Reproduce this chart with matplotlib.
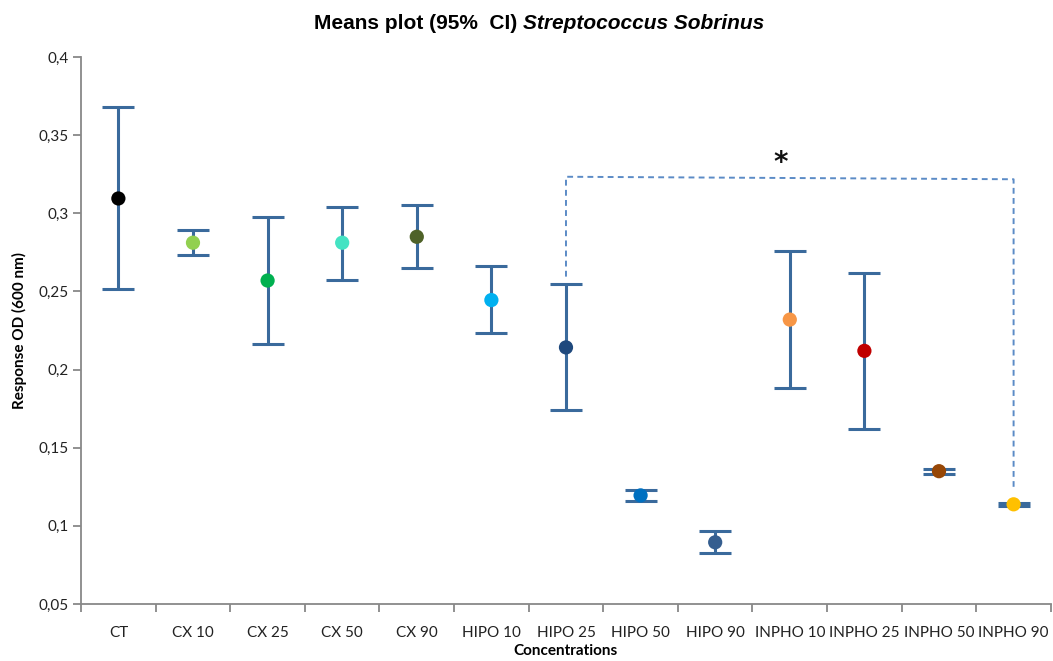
import matplotlib.pyplot as plt
import numpy as np

groups = ['CT', 'CX 10', 'CX 25', 'CX 50', 'CX 90', 'HIPO 10', 'HIPO 25',
          'HIPO 50', 'HIPO 90', 'INPHO 10', 'INPHO 25', 'INPHO 50', 'INPHO 90']
means = [0.3095, 0.2812, 0.2570, 0.2812, 0.2850, 0.2445, 0.2142,
         0.1195, 0.0895, 0.2320, 0.2120, 0.1350, 0.1138]
ci_upper = [0.3678, 0.2891, 0.2976, 0.3043, 0.3053, 0.2660, 0.2548,
            0.1228, 0.0965, 0.2757, 0.2620, 0.1365, 0.1145]
ci_lower = [0.2516, 0.2733, 0.2164, 0.2576, 0.2648, 0.2234, 0.1741,
            0.1162, 0.0827, 0.1882, 0.1622, 0.1333, 0.1130]
dot_colors = ['#000000', '#92D050', '#00B050', '#44E3C3', '#4F6228', '#00B0F0',
              '#1F497D', '#0070C0', '#355E8F', '#F79646', '#C00000', '#974706',
              '#FFC000']

# comparison bracket HIPO 25 vs INPHO 90
bracket_pair = (6, 12)
bracket_top = (0.3234, 0.3218)
bracket_bottom = (0.2595, 0.1250)

bar_col = '#3A6A9C'
grey = '#888888'

fig = plt.figure(figsize=(10.53, 6.61), dpi=100)
ax = fig.add_axes([0.077, 0.0862, 0.921, 0.8275])

x = np.arange(len(groups))
m = np.array(means)
err = np.vstack([m - np.array(ci_lower), np.array(ci_upper) - m])
ax.errorbar(x, m, yerr=err, fmt='none', ecolor=bar_col, elinewidth=2.2,
            capsize=11.5, capthick=2.2, zorder=2)
ax.scatter(x, m, s=105, c=dot_colors, zorder=3, edgecolors='none')

# dashed bracket with significance star
i0, i1 = bracket_pair
ax.plot([i0, i0, i1, i1],
        [bracket_bottom[0], bracket_top[0], bracket_top[1], bracket_bottom[1]],
        ls=(0, (3, 2.2)), color='#5B8BC6', lw=1.4, zorder=1)
ax.text(8.88, 0.3235, '*', ha='center', va='bottom', fontsize=20,
        fontweight='bold', color='#111111')

ax.set_xlim(-0.5, len(groups) - 0.5)
ax.set_ylim(0.05, 0.4)
yt = np.arange(0.05, 0.4001, 0.05)
ax.set_yticks(yt)
ax.set_yticklabels([('%g' % round(v, 2)).replace('.', ',') for v in yt])
ax.set_xticks(x)
ax.set_xticklabels(groups)
ax.set_xticks(np.arange(-0.5, len(groups), 1.0), minor=True)
ax.tick_params(axis='x', which='major', length=0, pad=16)
ax.tick_params(axis='x', which='minor', length=6, width=1.3, color=grey)
ax.tick_params(axis='y', length=6, width=1.3, color=grey, pad=3)
for lab in ax.get_xticklabels() + ax.get_yticklabels():
    lab.set_family(['Lato', 'DejaVu Sans'])
    lab.set_fontsize(11)
    lab.set_color('#222222')

for s in ['top', 'right']:
    ax.spines[s].set_visible(False)
for s in ['left', 'bottom']:
    ax.spines[s].set_color(grey)
    ax.spines[s].set_linewidth(1.3)

ax.set_xlabel('Concentrations', fontsize=11, fontweight='bold',
              family=['Lato', 'DejaVu Sans'], labelpad=3)
ax.set_ylabel('Response OD (600 nm)', fontsize=11, fontweight='bold',
              family=['Lato', 'DejaVu Sans'], labelpad=8)

title_font = ['Liberation Sans Narrow', 'Liberation Sans']
fig.text(0.497, 0.965, 'Means plot (95%  CI) ', ha='right', va='center',
         fontsize=15, fontweight='bold', family=title_font)
fig.text(0.497, 0.965, 'Streptococcus Sobrinus', ha='left', va='center',
         fontsize=15, fontweight='bold', style='italic', family=title_font)

fig.savefig('out.png', dpi=100)
